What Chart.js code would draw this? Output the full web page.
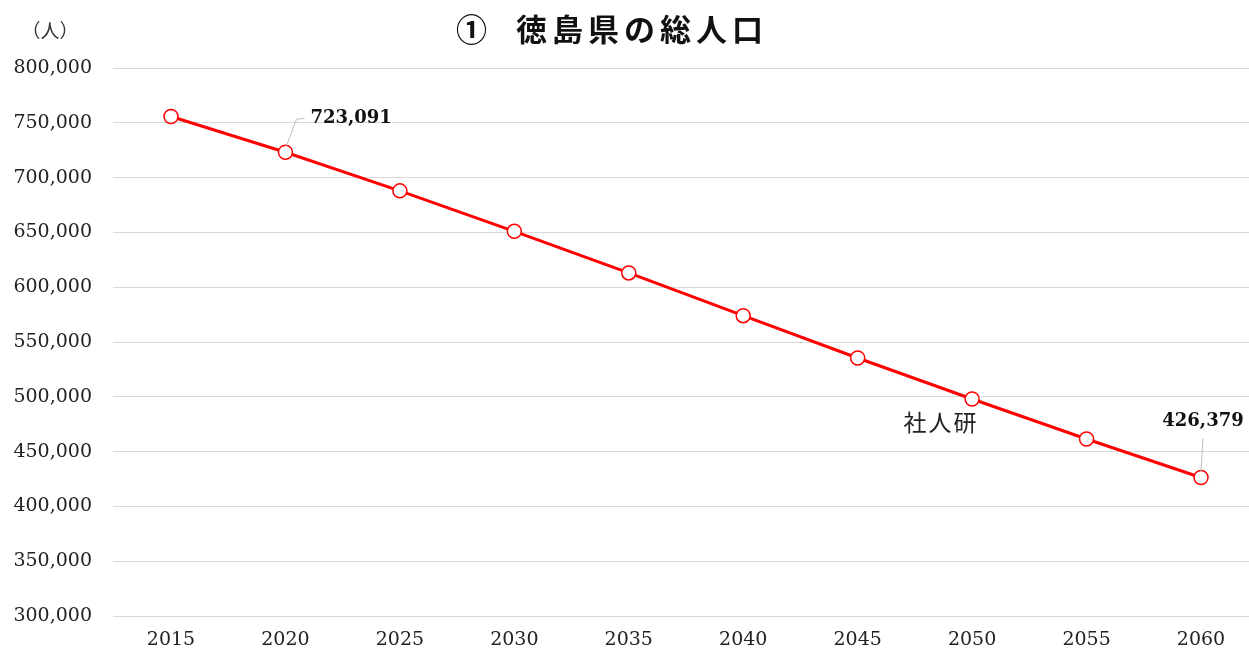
<!DOCTYPE html>
<html>
<head>
<meta charset="utf-8">
<script src="https://cdn.jsdelivr.net/npm/chart.js@4/dist/chart.umd.min.js"></script>
<style>
html,body{margin:0;padding:0;background:#fff;overflow:hidden;}
#wrap{width:1249px;height:650px;position:relative;}
</style>
</head>
<body>
<div id="wrap"><canvas id="c" width="1249" height="650"></canvas></div>
<script>
const years = [2015, 2020, 2025, 2030, 2035, 2040, 2045, 2050, 2055, 2060];
const population = [755733, 723091, 687900, 651000, 613000, 574000, 535400, 498000, 461500, 426379];
const yTicks = [300000, 350000, 400000, 450000, 500000, 550000, 600000, 650000, 700000, 750000, 800000];
const titleText = '①  徳島県の総人口';
const unitText = '（人）';
const sourceText = '社人研';
const labelledYears = [2020, 2060];

const fmt = v => v.toLocaleString('en-US');

const overlay = {
  id: 'overlay',
  afterDatasetsDraw(chart) {
    const ctx = chart.ctx;
    const xs = chart.scales.x, ys = chart.scales.y;
    ctx.save();
    // title
    ctx.fillStyle = '#111';
    ctx.font = 'bold 31px "Noto Sans CJK JP"';
    ctx.textBaseline = 'middle';
    ctx.textAlign = 'left';
    ctx.letterSpacing = '5px';
    ctx.fillText(titleText, 456, 29);
    ctx.letterSpacing = '0px';
    // unit
    ctx.font = '19px "Noto Sans CJK JP"';
    ctx.fillStyle = '#333';
    ctx.textAlign = 'center';
    ctx.fillText(unitText, 50, 31);
    // value labels with leader lines
    labelledYears.forEach((yr) => {
      const i = years.indexOf(yr);
      const px = xs.getPixelForValue(yr), py = ys.getPixelForValue(population[i]);
      ctx.strokeStyle = '#bfbfbf';
      ctx.lineWidth = 1;
      ctx.font = 'bold 18px "DejaVu Serif"';
      ctx.fillStyle = '#111';
      if (yr === 2020) {
        ctx.beginPath();
        ctx.moveTo(px + 1, py - 6);
        ctx.lineTo(px + 11, py - 33);
        ctx.lineTo(px + 19, py - 34);
        ctx.stroke();
        ctx.textAlign = 'left';
        ctx.fillText(fmt(population[i]), px + 25, py - 34);
      } else {
        ctx.beginPath();
        ctx.moveTo(px, py - 6);
        ctx.lineTo(px + 2, py - 39);
        ctx.stroke();
        ctx.textAlign = 'center';
        ctx.fillText(fmt(population[i]), px + 2, py - 56);
      }
    });
    // source label
    const si = years.indexOf(2050);
    const sx = xs.getPixelForValue(2050), sy = ys.getPixelForValue(population[si]);
    ctx.font = '23px "Noto Sans CJK JP"';
    ctx.fillStyle = '#222';
    ctx.textAlign = 'center';
    ctx.letterSpacing = '2px';
    ctx.fillText(sourceText, sx - 31, sy + 23);
    ctx.restore();
  }
};

new Chart(document.getElementById('c'), {
  type: 'line',
  data: {
    datasets: [{
      data: years.map((y, i) => ({x: y, y: population[i]})),
      borderColor: '#ff0000',
      borderWidth: 3,
      pointRadius: 7,
      pointHoverRadius: 7,
      pointBackgroundColor: '#ffffff',
      pointBorderColor: '#ff0000',
      pointBorderWidth: 1.5,
      tension: 0
    }]
  },
  options: {
    responsive: false,
    animation: false,
    events: [],
    layout: { autoPadding: false, padding: { top: 68, right: 0, left: 0, bottom: 0 } },
    plugins: { legend: { display: false }, title: { display: false }, tooltip: { enabled: false } },
    scales: {
      x: {
        type: 'linear',
        min: 2012.466,
        max: 2062.097,
        afterBuildTicks(scale) { scale.ticks = years.map(v => ({ value: v })); },
        afterFit(scale) { scale.height = 34; scale.paddingLeft = 0; scale.paddingRight = 0; },
        grid: { display: false, drawTicks: false },
        border: { display: false },
        ticks: {
          padding: 13,
          autoSkip: false,
          maxRotation: 0,
          color: '#222',
          font: { family: '"DejaVu Serif"', size: 19 },
          callback: v => String(v)
        }
      },
      y: {
        min: 300000,
        max: 800000,
        afterBuildTicks(scale) { scale.ticks = yTicks.map(v => ({ value: v })); },
        afterFit(scale) { scale.width = 113; },
        grid: { color: '#d9d9d9', lineWidth: 1, drawTicks: false },
        border: { display: false },
        ticks: {
          padding: 21,
          color: '#222',
          font: { family: '"DejaVu Serif"', size: 19 },
          callback: v => fmt(v)
        }
      }
    }
  },
  plugins: [overlay]
});
</script>
</body>
</html>
